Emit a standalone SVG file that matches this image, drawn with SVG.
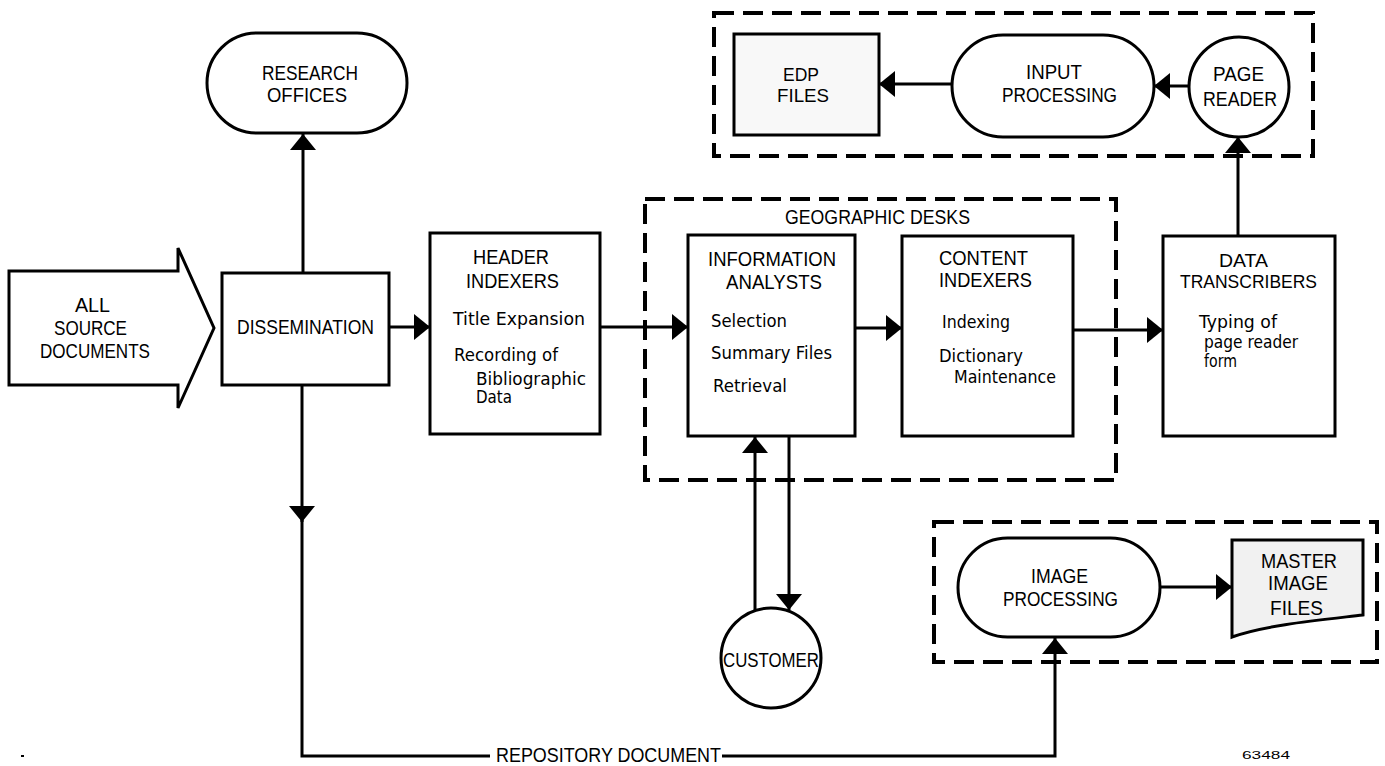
<svg xmlns="http://www.w3.org/2000/svg" width="1385" height="766" viewBox="0 0 1385 766">
<defs>
<marker id="ah" markerUnits="userSpaceOnUse" markerWidth="16" markerHeight="26" refX="16" refY="13" orient="auto"><path d="M0,0 L16,13 L0,26 Z" fill="#000"/></marker>
</defs>
<style>
.n{fill:#fff;stroke:#000;stroke-width:3}
.g{fill:#f1f1f1;stroke:#000;stroke-width:3}
.d{fill:none;stroke:#000;stroke-width:4;stroke-dasharray:20 9}
.c{fill:none;stroke:#000;stroke-width:3}
.u{font-family:"Liberation Sans",Arial,sans-serif;font-size:21px;fill:#000}
.t{font-family:"Liberation Sans",Arial,sans-serif;font-size:19px;fill:#000}
.l{font-family:"DejaVu Sans","Liberation Sans",sans-serif;font-size:17px;fill:#000}
.s{font-family:"Liberation Sans",Arial,sans-serif;font-size:10px;fill:#000}
</style>
<rect width="1385" height="766" fill="#fff"/>

<g id="frames">
<rect class="d" x="714" y="13" width="599" height="143"/>
<rect class="d" x="645" y="199" width="471" height="281"/>
<rect class="d" x="934" y="522" width="443" height="140"/>
<text class="u" x="785" y="224" textLength="185" lengthAdjust="spacingAndGlyphs">GEOGRAPHIC DESKS</text>
</g>

<g id="connectors">
<path class="c" d="M303,273 L303,134" marker-end="url(#ah)"/>
<path class="c" d="M389,327 L430,327" marker-end="url(#ah)"/>
<path class="c" d="M600,327 L688,327" marker-end="url(#ah)"/>
<path class="c" d="M855,328 L902,328" marker-end="url(#ah)"/>
<path class="c" d="M1073,330 L1163,330" marker-end="url(#ah)"/>
<path class="c" d="M1238,236 L1238,137" marker-end="url(#ah)"/>
<path class="c" d="M1190,86 L1154,86" marker-end="url(#ah)"/>
<path class="c" d="M952,84 L879,84" marker-end="url(#ah)"/>
<path class="c" d="M789,436 L789,610" marker-end="url(#ah)"/>
<path class="c" d="M755,611 L755,437" marker-end="url(#ah)"/>
<path class="c" d="M302,385 L302,522" marker-end="url(#ah)"/>
<path class="c" d="M302,520 L302,756 L490,756"/>
<path class="c" d="M722,756 L1055,756 L1055,638" marker-end="url(#ah)"/>
<path class="c" d="M1160,587 L1232,587" marker-end="url(#ah)"/>
<text class="u" x="496" y="762" textLength="225" lengthAdjust="spacingAndGlyphs">REPOSITORY DOCUMENT</text>
</g>

<g id="all-source">
<path class="n" d="M9,271 L178,271 L178,248 L214,328 L178,408 L178,385 L9,385 Z"/>
<text class="u" x="75" y="312" textLength="35" lengthAdjust="spacingAndGlyphs">ALL</text>
<text class="u" x="54" y="335" textLength="73" lengthAdjust="spacingAndGlyphs">SOURCE</text>
<text class="u" x="40" y="358" textLength="110" lengthAdjust="spacingAndGlyphs">DOCUMENTS</text>
</g>

<g id="research-offices">
<rect class="n" x="207" y="33" width="200" height="100" rx="50"/>
<text class="u" x="262" y="80" textLength="96" lengthAdjust="spacingAndGlyphs">RESEARCH</text>
<text class="u" x="267" y="102" textLength="80" lengthAdjust="spacingAndGlyphs">OFFICES</text>
</g>

<g id="dissemination">
<rect class="n" x="222" y="273" width="167" height="112"/>
<text class="u" x="237" y="334" textLength="137" lengthAdjust="spacingAndGlyphs">DISSEMINATION</text>
</g>

<g id="header-indexers">
<rect class="n" x="430" y="233" width="170" height="201"/>
<text class="u" x="473" y="264" textLength="76" lengthAdjust="spacingAndGlyphs">HEADER</text>
<text class="u" x="466" y="288" textLength="93" lengthAdjust="spacingAndGlyphs">INDEXERS</text>
<text class="l" x="453" y="325" textLength="132" lengthAdjust="spacingAndGlyphs">Title Expansion</text>
<text class="l" x="454" y="361" textLength="104" lengthAdjust="spacingAndGlyphs">Recording of</text>
<text class="l" x="476" y="385" textLength="110" lengthAdjust="spacingAndGlyphs">Bibliographic</text>
<text class="l" x="476" y="403" textLength="36" lengthAdjust="spacingAndGlyphs">Data</text>
</g>

<g id="information-analysts">
<rect class="n" x="688" y="235" width="167" height="201"/>
<text class="u" x="708" y="266" textLength="128" lengthAdjust="spacingAndGlyphs">INFORMATION</text>
<text class="u" x="726" y="289" textLength="96" lengthAdjust="spacingAndGlyphs">ANALYSTS</text>
<text class="l" x="711" y="327" textLength="76" lengthAdjust="spacingAndGlyphs">Selection</text>
<text class="l" x="711" y="359" textLength="121" lengthAdjust="spacingAndGlyphs">Summary Files</text>
<text class="l" x="713" y="392" textLength="74" lengthAdjust="spacingAndGlyphs">Retrieval</text>
</g>

<g id="content-indexers">
<rect class="n" x="902" y="236" width="171" height="200"/>
<text class="u" x="939" y="265" textLength="89" lengthAdjust="spacingAndGlyphs">CONTENT</text>
<text class="u" x="939" y="287" textLength="93" lengthAdjust="spacingAndGlyphs">INDEXERS</text>
<text class="l" x="942" y="328" textLength="68" lengthAdjust="spacingAndGlyphs">Indexing</text>
<text class="l" x="939" y="362" textLength="84" lengthAdjust="spacingAndGlyphs">Dictionary</text>
<text class="l" x="954" y="383" textLength="102" lengthAdjust="spacingAndGlyphs">Maintenance</text>
</g>

<g id="data-transcribers">
<rect class="n" x="1163" y="236" width="172" height="200"/>
<text class="t" x="1219" y="267" textLength="49" lengthAdjust="spacingAndGlyphs">DATA</text>
<text class="t" x="1180" y="288" textLength="137" lengthAdjust="spacingAndGlyphs">TRANSCRIBERS</text>
<text class="l" x="1199" y="328" textLength="78" lengthAdjust="spacingAndGlyphs">Typing of</text>
<text class="l" x="1204" y="348" textLength="94" lengthAdjust="spacingAndGlyphs">page reader</text>
<text class="l" x="1204" y="367" textLength="33" lengthAdjust="spacingAndGlyphs">form</text>
</g>

<g id="page-reader">
<circle class="n" cx="1239" cy="87" r="50"/>
<text class="u" x="1213" y="81" textLength="51" lengthAdjust="spacingAndGlyphs">PAGE</text>
<text class="u" x="1203" y="106" textLength="74" lengthAdjust="spacingAndGlyphs">READER</text>
</g>

<g id="input-processing">
<rect class="n" x="952" y="35" width="202" height="102" rx="51"/>
<text class="u" x="1026" y="79" textLength="56" lengthAdjust="spacingAndGlyphs">INPUT</text>
<text class="u" x="1002" y="102" textLength="115" lengthAdjust="spacingAndGlyphs">PROCESSING</text>
</g>

<g id="edp-files">
<rect class="g" x="734" y="34" width="145" height="101" style="fill:#f8f8f8"/>
<text class="t" x="783" y="81" textLength="36" lengthAdjust="spacingAndGlyphs">EDP</text>
<text class="t" x="777" y="102" textLength="52" lengthAdjust="spacingAndGlyphs">FILES</text>
</g>

<g id="customer">
<circle class="n" cx="771" cy="658" r="50"/>
<text class="u" x="723" y="667" textLength="96" lengthAdjust="spacingAndGlyphs">CUSTOMER</text>
</g>

<g id="image-processing">
<rect class="n" x="958" y="538" width="202" height="99" rx="49.5"/>
<text class="u" x="1031" y="583" textLength="57" lengthAdjust="spacingAndGlyphs">IMAGE</text>
<text class="u" x="1003" y="606" textLength="115" lengthAdjust="spacingAndGlyphs">PROCESSING</text>
</g>

<g id="master-image-files">
<path class="g" d="M1232,540 L1363,540 L1363,615 C1320,620 1265,625 1232,637 Z"/>
<text class="u" x="1261" y="568" textLength="76" lengthAdjust="spacingAndGlyphs">MASTER</text>
<text class="u" x="1268" y="590" textLength="60" lengthAdjust="spacingAndGlyphs">IMAGE</text>
<text class="u" x="1270" y="615" textLength="53" lengthAdjust="spacingAndGlyphs">FILES</text>
</g>

<g id="marks">
<text class="s" x="1242" y="759" textLength="48" lengthAdjust="spacingAndGlyphs">63484</text>
<rect x="21" y="755" width="3" height="2" fill="#000"/>
</g>
</svg>
